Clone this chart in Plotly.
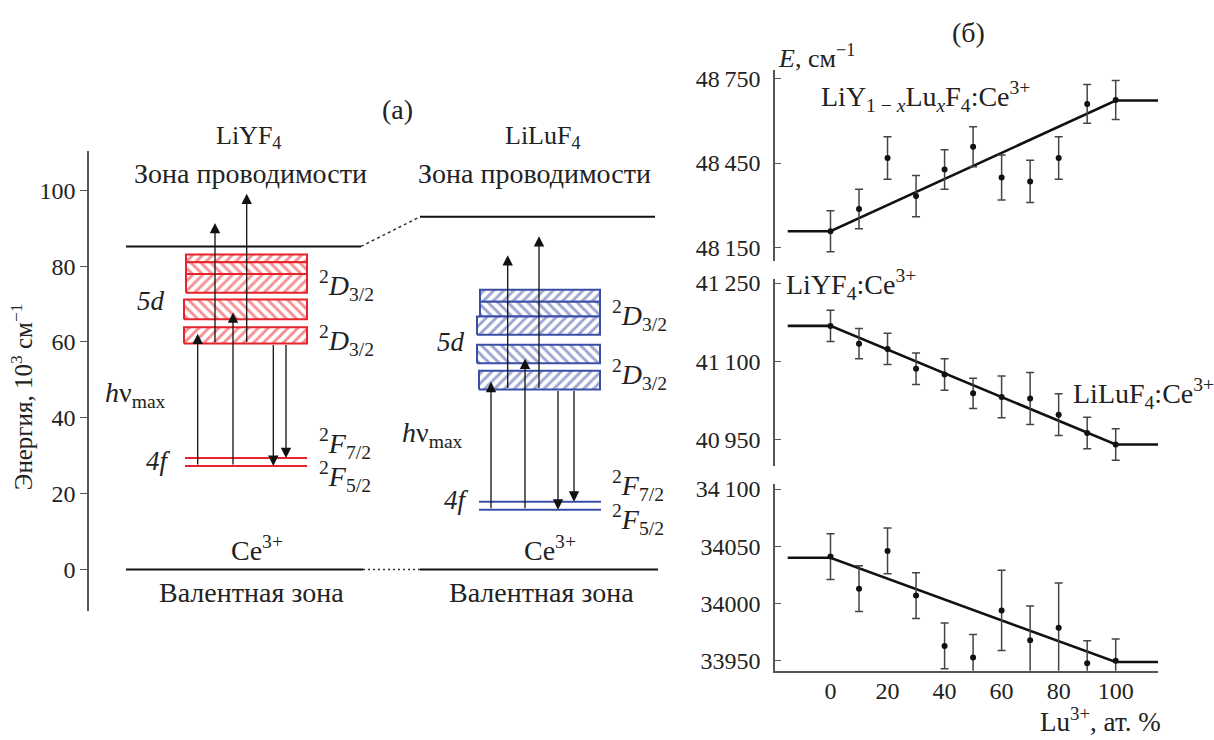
import plotly.graph_objects as go

W, H = 1214, 740
FONT = "Liberation Serif, Times New Roman, serif"
RED = "#e8232b"
BLUE = "#3b4ea6"
TXT = "#222222"
AX = "#555555"

# ---------------- panel (a): energy levels, 10^3 cm^-1 ----------------
energy_ticks = [0, 20, 40, 60, 80, 100]
cb_yf = 85.2           # conduction band bottom, LiYF4
cb_lu = 93.0           # conduction band bottom, LiLuF4
vb_level = 0.0         # valence band top
f_yf = [27.3, 29.4]    # 2F5/2, 2F7/2 (LiYF4)
f_lu = [15.8, 17.9]    # 2F5/2, 2F7/2 (LiLuF4)
d_yf_lo = [81.0, 77.9, 73.0, 66.0, 59.6]
d_yf_hi = [83.1, 81.0, 77.9, 71.2, 63.9]
d_lu_lo = [70.6, 66.7, 61.9, 54.4, 47.5]
d_lu_hi = [73.8, 70.6, 66.7, 59.3, 52.4]
band_hatch = ["/", "\\", "/", "\\", "/"]
abs_yf_end = [62.2, 67.8]     # 4f -> 5d absorption
ion_yf_end = [91.4, 99.1]     # 5d -> CB
abs_lu_end = [49.5, 55.6]
ion_lu_end = [82.9, 87.9]

# ---------------- panel (б): E vs Lu content ----------------
lu_pct = [0, 10, 20, 30, 40, 50, 60, 70, 80, 90, 100]
lu_ticks = [0, 20, 40, 60, 80, 100]
e1 = [48208, 48287, 48468, 48333, 48427, 48508, 48399, 48385, 48468, 48660, 48674]
e1_err = [73, 70, 75, 73, 70, 71, 80, 75, 75, 69, 69]
e2 = [41168, 41134, 41124, 41086, 41075, 41039, 41032, 41029, 40998, 40963, 40941]
e2_err = [30, 29, 30, 30, 30, 29, 40, 50, 40, 30, 30]
e3 = [34041, 34013, 34046, 34007, 33963, 33953, 33994, 33968, 33979, 33948, 33950]
e3_err = [20, 20, 20, 20, 20, 20, 35, 30, 39, 19.5, 19]
fit_x = [-15, 0, 100, 115]
fit1 = [48208, 48208, 48672, 48672]
fit2 = [41168, 41168, 40941, 40941]
fit3 = [34040, 34040, 33949, 33949]
e1_ticks = [48150, 48450, 48750]
e1_ticktext = ["48\u2009150", "48\u2009450", "48\u2009750"]
e2_ticks = [40950, 41100, 41250]
e2_ticktext = ["40\u2009950", "41\u2009100", "41\u2009250"]
e3_ticks = [33950, 34000, 34050, 34100]
e3_ticktext = ["33950", "34000", "34050", "34\u2009100"]

# ---------------- layout geometry (pixel-based) ----------------
def pxx(x):
    return x / W


def pxy(y):
    return 1 - y / H


# left panel x-axis runs in screen-pixel units
LX0, LX1 = 89, 680
yf_cb_x = (126, 361)
lu_cb_x = (420, 655)
yf_vb_x = (126, 363)
lu_vb_x = (420, 658)
yf_lvl_x = (185, 307)
lu_lvl_x = (479, 601)
yf_band_x0 = [186, 186, 186, 184, 184]
yf_band_x1 = 307
lu_band_x0 = [480, 480, 477, 477, 479]
lu_band_x1 = 600
yf_abs_x = [197.7, 233.0]
yf_ion_x = [215.0, 246.7]
yf_em_x = [273.3, 286.0]
lu_abs_x = [491.0, 525.0]
lu_ion_x = [507.7, 539.0]
lu_em_x = [558.0, 574.0]

fig = go.Figure()


def hline(x0, x1, y, color, width=2, dash="solid"):
    fig.add_trace(go.Scatter(x=[x0, x1], y=[y, y], mode="lines",
                             line=dict(color=color, width=width, dash=dash),
                             xaxis="x", yaxis="y", hoverinfo="skip", showlegend=False))


def band(x0, x1, lo, hi, color, shape):
    fig.add_trace(go.Scatter(
        x=[x0, x1, x1, x0, x0], y=[lo, lo, hi, hi, lo], mode="lines",
        fill="toself", fillcolor="white",
        fillpattern=dict(shape=shape, fgcolor=color, bgcolor="white", size=7, solidity=0.42),
        line=dict(color=color, width=2), xaxis="x", yaxis="y",
        hoverinfo="skip", showlegend=False))


# bands
for lo, hi, x0, sh in zip(d_yf_lo, d_yf_hi, yf_band_x0, band_hatch):
    band(x0, yf_band_x1, lo, hi, RED, sh)
for lo, hi, x0, sh in zip(d_lu_lo, d_lu_hi, lu_band_x0, band_hatch):
    band(x0, lu_band_x1, lo, hi, BLUE, sh)

# 4f levels
for v in f_yf:
    hline(*yf_lvl_x, v, RED, 2)
for v in f_lu:
    hline(*lu_lvl_x, v, BLUE, 2)

# conduction / valence bands
hline(*yf_cb_x, cb_yf, "#111", 2)
hline(*lu_cb_x, cb_lu, "#111", 2)
hline(*yf_vb_x, vb_level, "#111", 2)
hline(*lu_vb_x, vb_level, "#111", 2)
fig.add_trace(go.Scatter(x=[yf_cb_x[1], lu_cb_x[0]], y=[cb_yf, cb_lu], mode="lines",
                         line=dict(color="#333", width=1.5, dash="dot"),
                         hoverinfo="skip", showlegend=False))
fig.add_trace(go.Scatter(x=[yf_vb_x[1], lu_vb_x[0]], y=[vb_level, vb_level], mode="lines",
                         line=dict(color="#333", width=1.5, dash="2px,3px"),
                         hoverinfo="skip", showlegend=False))

annotations = []


def arrow(x, y0, y1):
    annotations.append(dict(x=x, y=y1, ax=x, ay=y0, xref="x", yref="y", axref="x", ayref="y",
                            text="", showarrow=True, arrowhead=2, arrowsize=1.6,
                            arrowwidth=1.3, arrowcolor="#111", standoff=0))


for x, y1 in zip(yf_abs_x, abs_yf_end):
    arrow(x, f_yf[0], y1)
for x, y1 in zip(yf_ion_x, ion_yf_end):
    arrow(x, d_yf_lo[-1], y1)
for x, y1 in zip(yf_em_x, f_yf):
    arrow(x, d_yf_lo[-1], y1)
for x, y1 in zip(lu_abs_x, abs_lu_end):
    arrow(x, f_lu[0], y1)
for x, y1 in zip(lu_ion_x, ion_lu_end):
    arrow(x, d_lu_lo[-1], y1)
for x, y1 in zip(lu_em_x, f_lu):
    arrow(x, d_lu_lo[-1], y1)

# ---------------- panel (б) traces ----------------
series = [(e1, e1_err, fit1, "x2", "y2"), (e2, e2_err, fit2, "x3", "y3"), (e3, e3_err, fit3, "x4", "y4")]
for e, err, fit, xa, ya in series:
    fig.add_trace(go.Scatter(x=fit_x, y=fit, mode="lines", line=dict(color="#111", width=2.6),
                             xaxis=xa, yaxis=ya, hoverinfo="skip", showlegend=False))
    fig.add_trace(go.Scatter(x=lu_pct, y=e, mode="markers",
                             marker=dict(color="#111", size=6),
                             error_y=dict(type="data", array=err, visible=True,
                                          color="#444", thickness=1.5, width=4),
                             xaxis=xa, yaxis=ya, showlegend=False))


# ---------------- text ----------------
def label(text, x, y, xanchor="center", yanchor="middle", size=28, angle=0):
    annotations.append(dict(text=text, x=pxx(x), y=pxy(y), xref="paper", yref="paper",
                            xanchor=xanchor, yanchor=yanchor, showarrow=False, textangle=angle,
                            font=dict(family=FONT, size=size, color=TXT)))


label("(a)", 397, 103)
label("LiYF<sub>4</sub>", 248, 131, size=26)
label("LiLuF<sub>4</sub>", 543, 131, size=26)
label("Зона проводимости", 250, 168)
label("Зона проводимости", 534, 168)
label("<i>5d</i>", 151, 297, size=27)
label("<i>5d</i>", 451, 339, size=27)
label("<sup>2</sup><i>D</i><sub>3/2</sub>", 317, 282, xanchor="left")
label("<sup>2</sup><i>D</i><sub>3/2</sub>", 317, 338, xanchor="left")
label("<sup>2</sup><i>D</i><sub>3/2</sub>", 610, 312, xanchor="left")
label("<sup>2</sup><i>D</i><sub>3/2</sub>", 610, 372, xanchor="left")
label("<i>h</i>ν<sub>max</sub>", 103, 392, xanchor="left")
label("<i>h</i>ν<sub>max</sub>", 400, 433, xanchor="left")
label("<i>4f</i>", 158, 460, size=27)
label("<i>4f</i>", 456, 499, size=27)
label("<sup>2</sup><i>F</i><sub>7/2</sub>", 317, 442, xanchor="left")
label("<sup>2</sup><i>F</i><sub>5/2</sub>", 317, 476, xanchor="left")
label("<sup>2</sup><i>F</i><sub>7/2</sub>", 610, 485, xanchor="left")
label("<sup>2</sup><i>F</i><sub>5/2</sub>", 610, 519, xanchor="left")
label("Ce<sup>3+</sup>", 257, 549)
label("Ce<sup>3+</sup>", 550, 549)
label("Валентная зона", 251, 593)
label("Валентная зона", 541, 593)
label("Энергия, 10<sup>3</sup> см<sup>−1</sup>", 22, 395, size=25, angle=-90)

label("(б)", 968, 25)
label("<i>E</i>, см<sup>−1</sup>", 776, 49, xanchor="left", size=26)
label("LiY<sub>1 − <i>x</i></sub>Lu<sub><i>x</i></sub>F<sub>4</sub>:Ce<sup>3+</sup>", 819, 90, xanchor="left")
label("LiYF<sub>4</sub>:Ce<sup>3+</sup>", 784, 281, xanchor="left")
label("LiLuF<sub>4</sub>:Ce<sup>3+</sup>", 1071, 391, xanchor="left")
label("Lu<sup>3+</sup>, ат. %", 1163, 723, xanchor="right", size=27)

# ---------------- axes ----------------
tickfont = dict(family=FONT, size=24, color=TXT)
RX0, RX1 = 775, 1158
PX_PER_PCT = 2.852
x_right_range = [-(830.5 - RX0) / PX_PER_PCT, (RX1 - 830.5) / PX_PER_PCT]

layout_axes = dict(
    xaxis=dict(domain=[pxx(LX0), pxx(LX1)], range=[LX0, LX1], visible=False, anchor="y"),
    yaxis=dict(domain=[pxy(612), pxy(145)], range=[-10.9, 110.4], anchor="x",
               showline=True, linecolor=AX, linewidth=1.5, ticks="outside", ticklen=7,
               tickwidth=1.3, tickcolor=AX, tickvals=energy_ticks, tickfont=tickfont,
               showgrid=False, zeroline=False),
    xaxis2=dict(domain=[pxx(RX0), pxx(RX1)], range=x_right_range, visible=False, anchor="y2"),
    xaxis3=dict(domain=[pxx(RX0), pxx(RX1)], range=x_right_range, visible=False, anchor="y3"),
    xaxis4=dict(domain=[pxx(RX0), pxx(RX1)], range=x_right_range, anchor="y4",
                showline=True, linecolor=AX, linewidth=1.5, ticks="", tickvals=lu_ticks,
                tickfont=tickfont, showgrid=False, zeroline=False, ticklabelstandoff=-2),
)
for ax, ya, dom, rng, tv, tt in [
    ("x2", "yaxis2", (256.7, 63.3), (48103, 48779), e1_ticks, e1_ticktext),
    ("x3", "yaxis3", (465, 275), (40899.6, 41258), e2_ticks, e2_ticktext),
    ("x4", "yaxis4", (672.7, 483.3), (33941.4, 34104.3), e3_ticks, e3_ticktext),
]:
    layout_axes[ya] = dict(domain=[pxy(dom[0]), pxy(dom[1])], range=list(rng), anchor=ax,
                           showline=True, linecolor=AX, linewidth=1.5, ticks="inside",
                           ticklen=6, tickwidth=1.3, tickcolor=AX, tickvals=tv, ticktext=tt,
                           tickfont=tickfont, showgrid=False, zeroline=False,
                           ticklabelstandoff=8)

fig.update_layout(
    width=W, height=H, margin=dict(l=0, r=0, t=0, b=0, pad=0),
    paper_bgcolor="white", plot_bgcolor="white",
    font=dict(family=FONT, size=24, color=TXT),
    showlegend=False, annotations=annotations, **layout_axes)

fig.write_html("out.html")
